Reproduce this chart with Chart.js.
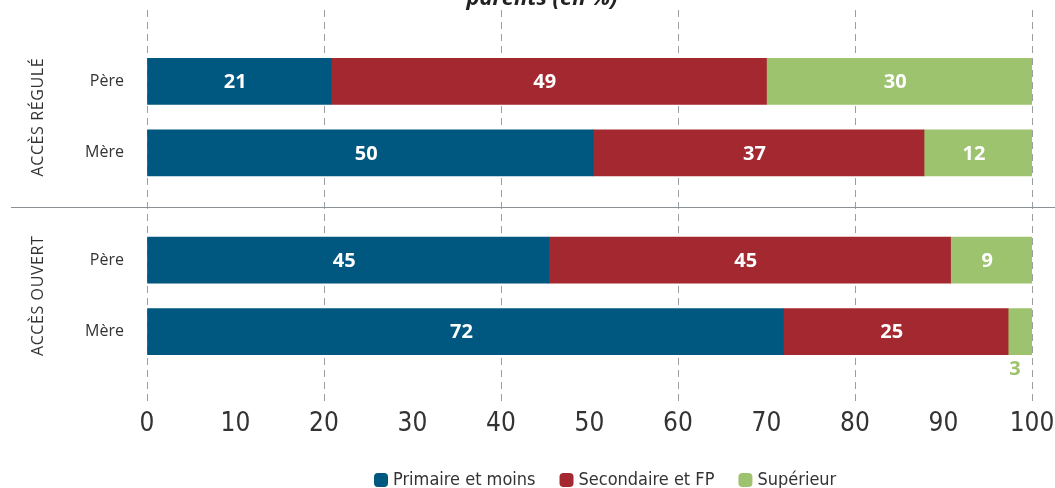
<!DOCTYPE html>
<html lang="fr">
<head>
<meta charset="utf-8">
<title>Niveau de diplôme des parents</title>
<script src="https://cdn.jsdelivr.net/npm/chart.js@4.4.1/dist/chart.umd.min.js"></script>
<style>
  html, body { margin: 0; padding: 0; background: #fff; }
  #wrap { width: 1055px; height: 488px; position: relative; }
</style>
</head>
<body>
<div id="wrap"><canvas id="chart"></canvas></div>
<script>
// Row groups and the parent shown on each row of a group
const groups = ['ACCÈS RÉGULÉ', 'ACCÈS OUVERT'];
const parents = ['Père', 'Mère'];

// Diploma level shares (%), rows: Père, Mère (régulé) then Père, Mère (ouvert)
const levels = ['Primaire et moins', 'Secondaire et FP', 'Supérieur'];
const primaire = [20.8, 50.4, 45.4, 71.9];
const secondaire = [49.2, 37.4, 45.4, 25.4];
const superieur = [30.0, 12.2, 9.2, 2.7];

const colors = ['#00577f', '#a3282f', '#9dc36f'];
const TEXT = '#333333';
const NARROW = '"Liberation Sans Narrow", "DejaVu Sans Condensed", sans-serif';

// rows sit one unit apart, groups are pushed 1.5 units apart
const rowPos = [];
const rowLabels = [];
groups.forEach((g, gi) => {
  parents.forEach((p, pi) => {
    rowPos.push(1 + gi * 2.5 + pi);
    rowLabels.push(p);
  });
});

const series = [primaire, secondaire, superieur];
const datasets = levels.map((name, i) => ({
  label: name,
  data: series[i].map((v, r) => ({x: v, y: rowPos[r]})),
  backgroundColor: colors[i],
  borderWidth: 0,
  barThickness: 46
}));

// group separator, rotated group names and the (clipped) heading
const decorations = {
  id: 'decorations',
  afterDraw(chart) {
    const {ctx, scales: {y}} = chart;
    ctx.save();

    const sepY = Math.round(y.getPixelForValue((rowPos[1] + rowPos[2]) / 2)) + 0.5;
    ctx.strokeStyle = '#8c9196';
    ctx.lineWidth = 1;
    ctx.beginPath();
    ctx.moveTo(11, sepY);
    ctx.lineTo(chart.width, sepY);
    ctx.stroke();

    ctx.fillStyle = TEXT;
    ctx.font = '16px "Open Sans"';
    ctx.letterSpacing = '0.6px';
    ctx.textAlign = 'center';
    ctx.textBaseline = 'middle';
    groups.forEach((g, gi) => {
      const mid = y.getPixelForValue((rowPos[gi * 2] + rowPos[gi * 2 + 1]) / 2);
      ctx.save();
      ctx.translate(38, mid);
      ctx.rotate(-Math.PI / 2);
      ctx.fillText(g, 0, 0);
      ctx.restore();
    });
    ctx.letterSpacing = '0px';

    ctx.fillStyle = '#222';
    ctx.font = 'italic bold 22px "Open Sans"';
    ctx.textBaseline = 'alphabetic';
    ctx.fillText('parents (en %)', 542, 5);
    ctx.restore();
  }
};

// rounded values on the bars, tiny segments get theirs underneath
const valueLabels = {
  id: 'valueLabels',
  afterDatasetsDraw(chart) {
    const {ctx} = chart;
    ctx.save();
    ctx.font = 'bold 20px "Open Sans"';
    ctx.textAlign = 'center';
    ctx.textBaseline = 'middle';
    chart.data.datasets.forEach((ds, i) => {
      chart.getDatasetMeta(i).data.forEach((bar, j) => {
        const {x, y, base, height} = bar.getProps(['x', 'y', 'base', 'height'], true);
        const text = String(Math.round(ds.data[j].x));
        const w = x - base;
        if (w > 30) {
          ctx.fillStyle = '#fff';
          ctx.fillText(text, base + w / 2 - 4, y + 1);
        } else {
          ctx.fillStyle = ds.backgroundColor;
          ctx.fillText(text, base + w / 2 - 5, y + height / 2 + 15);
        }
      });
    });
    ctx.restore();
  }
};

// legend row at the bottom
const legendRow = {
  id: 'legendRow',
  afterDraw(chart) {
    const {ctx} = chart;
    ctx.save();
    ctx.font = '18px ' + NARROW;
    ctx.textBaseline = 'middle';
    let x = 374;
    const cy = 480;
    levels.forEach((name, i) => {
      ctx.fillStyle = colors[i];
      ctx.beginPath();
      ctx.roundRect(x, cy - 7, 14, 14, 4);
      ctx.fill();
      ctx.fillStyle = TEXT;
      ctx.fillText(name, x + 19, cy);
      x += 19 + ctx.measureText(name).width + 24;
    });
    ctx.restore();
  }
};

new Chart(document.getElementById('chart'), {
  type: 'bar',
  data: {datasets},
  plugins: [decorations, valueLabels, legendRow],
  options: {
    indexAxis: 'y',
    responsive: true,
    maintainAspectRatio: false,
    animation: false,
    layout: {padding: {top: 10, right: 23, bottom: 0, left: 0}},
    plugins: {
      legend: {display: false},
      tooltip: {enabled: false}
    },
    scales: {
      x: {
        type: 'linear',
        stacked: true,
        min: 0,
        max: 100,
        grid: {
          color: (c) => (c.tick && c.tick.value % 20 === 0 ? '#9aa0a6' : 'rgba(0,0,0,0)'),
          lineWidth: 1,
          drawTicks: false
        },
        border: {display: false, dash: [7, 5]},
        ticks: {
          stepSize: 10,
          padding: 6,
          color: TEXT,
          font: {family: NARROW, size: 26}
        },
        afterFit: (scale) => {
          scale.height = 85;
          // the "100" label may run into the right margin
          scale.paddingLeft = 0;
          scale.paddingRight = 0;
        }
      },
      y: {
        type: 'linear',
        stacked: true,
        reverse: true,
        offset: false,
        min: 0,
        max: 5.5,
        grid: {display: false, drawTicks: false, offset: false},
        border: {display: false},
        afterBuildTicks: (scale) => { scale.ticks = rowPos.map(v => ({value: v})); },
        ticks: {
          autoSkip: false,
          padding: 23,
          color: TEXT,
          font: {family: '"Open Sans"', size: 16},
          callback: (v) => rowLabels[rowPos.indexOf(v)] || ''
        },
        afterFit: (scale) => {
          scale.width = 147;
          // row labels never sit on the ends, no room needed above/below
          scale.paddingTop = 0;
          scale.paddingBottom = 0;
        }
      }
    }
  }
});
</script>
</body>
</html>
